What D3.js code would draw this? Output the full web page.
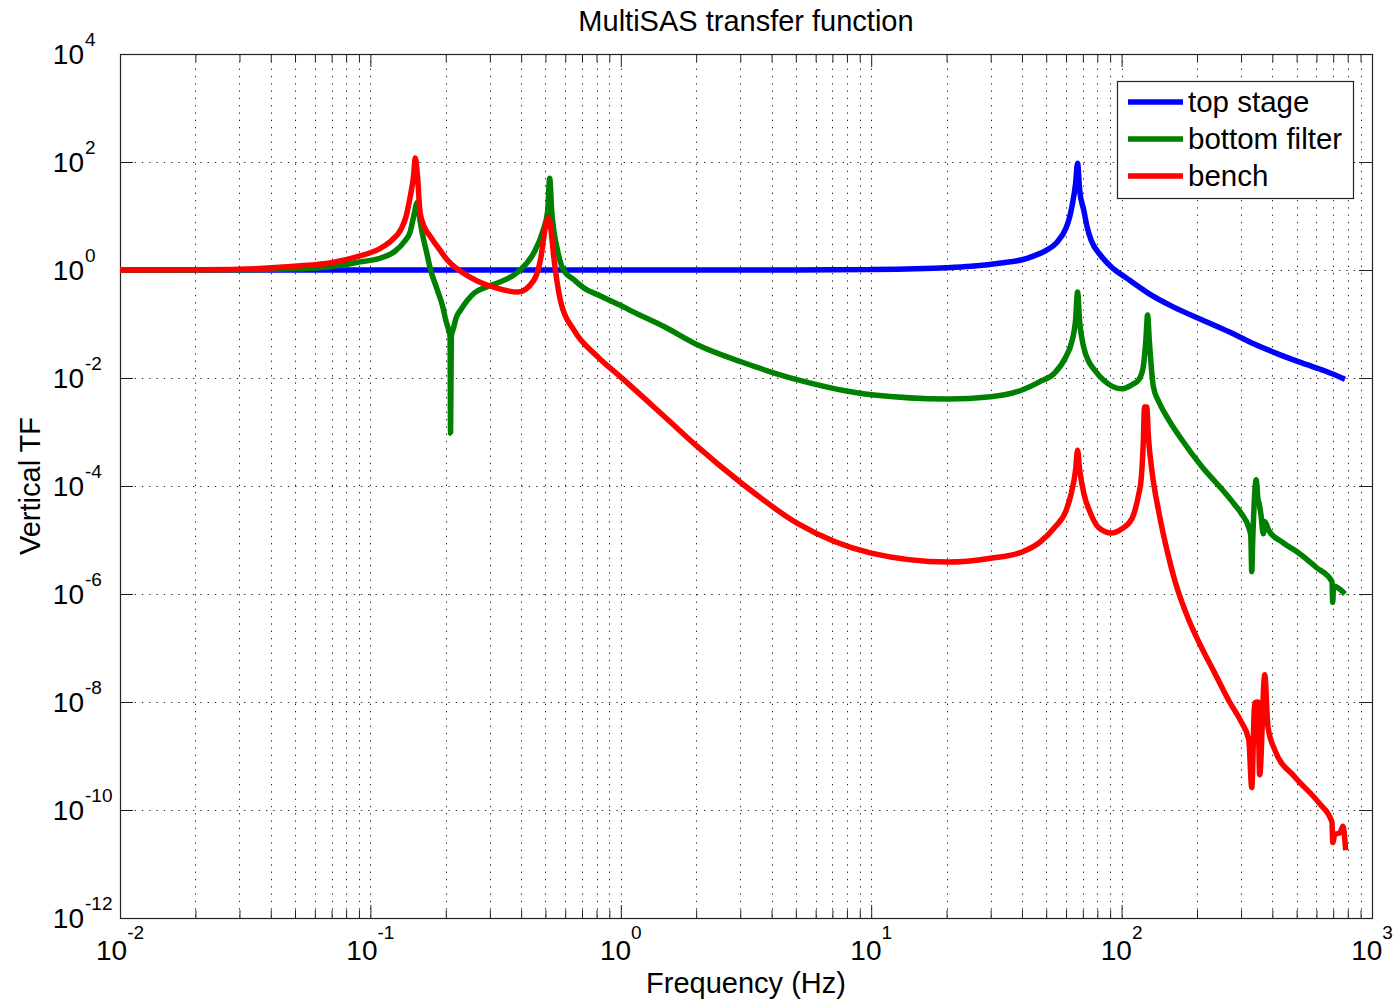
<!DOCTYPE html>
<html>
<head>
<meta charset="utf-8">
<script src="https://cdn.jsdelivr.net/npm/d3@7"></script>
<style>
  html, body { margin: 0; padding: 0; background: #fff; }
  svg text { font-family: "Liberation Sans", Arial, sans-serif; fill: #000; }
</style>
</head>
<body>
<div id="chart"></div>
<script>
// Valores (frecuencia en Hz, función de transferencia)
const topStageFreq = [0.01, 0.1, 1, 5, 10, 15, 20, 25, 33, 40, 45, 50, 55, 60, 62, 63.5, 65.5, 66.7, 68, 70.6, 73, 75.5, 83, 91, 105, 128, 160, 209, 270, 337, 420, 525, 650, 780];
const topStageTF   = [1, 1, 1, 1.005, 1.02, 1.05, 1.1, 1.17, 1.35, 1.55, 1.85, 2.3, 3.2, 6, 9.5, 16, 40, 95, 30, 12.9, 6, 3.6, 1.8, 1.14, 0.7, 0.37, 0.21, 0.12, 0.071, 0.043, 0.028, 0.019, 0.0135, 0.0095];

const bottomFilterFreq = [0.01, 0.03, 0.05, 0.069, 0.09, 0.11, 0.125, 0.137, 0.144, 0.149, 0.154, 0.158, 0.161, 0.167, 0.174, 0.185, 0.195, 0.2, 0.205, 0.208, 0.209, 0.2105, 0.215, 0.22, 0.229, 0.245, 0.26, 0.29, 0.32, 0.388, 0.45, 0.49, 0.51, 0.52, 0.53, 0.54, 0.56, 0.59, 0.65, 0.71, 0.83, 1.0, 1.1, 1.5, 2.03, 3.02, 5.1, 10, 20.3, 30, 40, 47, 54, 60, 63, 65.5, 66.7, 68, 70.6, 74, 78, 85, 100, 110, 117, 122, 125, 127, 129, 134, 141, 154, 174, 209, 250, 283, 302, 322, 328, 331, 334, 345, 350, 355, 360, 368, 373, 387, 440, 511, 600, 692, 697, 702, 740, 780];
const bottomFilterTF   = [1, 1.01, 1.05, 1.15, 1.4, 1.67, 2.2, 3.4, 5, 10, 18, 8, 4.9, 2.3, 1.0, 0.43, 0.2, 0.118, 0.08, 0.06, 9.5e-4, 0.06, 0.085, 0.13, 0.18, 0.28, 0.375, 0.48, 0.57, 0.92, 2.1, 5.5, 12, 50, 12, 5.5, 2.2, 1.0, 0.66, 0.47, 0.33, 0.22, 0.175, 0.088, 0.041, 0.020, 0.0092, 0.0049, 0.0041, 0.0045, 0.006, 0.0085, 0.0123, 0.025, 0.044, 0.12, 0.39, 0.11, 0.037, 0.02, 0.014, 0.009, 0.0063, 0.0075, 0.0092, 0.016, 0.05, 0.147, 0.05, 0.0068, 0.0036, 0.0017, 7.2e-4, 2.3e-4, 9e-5, 4.5e-5, 3e-5, 1.7e-5, 1.2e-5, 2.6e-6, 1.0e-5, 1.3e-4, 6e-5, 4.5e-5, 3.0e-5, 1.3e-5, 2.2e-5, 1.5e-5, 9e-6, 5.7e-6, 3.1e-6, 1.7e-6, 7e-7, 1.4e-6, 1.25e-6, 1.0e-6];

const benchFreq = [0.01, 0.02, 0.03, 0.0525, 0.069, 0.09, 0.11, 0.122, 0.132, 0.139, 0.144, 0.149, 0.151, 0.154, 0.158, 0.165, 0.174, 0.19, 0.203, 0.25, 0.32, 0.388, 0.45, 0.48, 0.50, 0.515, 0.525, 0.54, 0.577, 0.65, 0.81, 1.0, 1.5, 2.03, 3.02, 5.1, 10, 20.3, 30, 40, 47, 54, 60, 63, 65.5, 66.7, 68, 70.6, 75, 81, 91, 100, 110, 113, 117, 120, 122, 123.5, 126, 128, 132, 141, 154, 163, 185, 209, 235, 270, 302, 322, 331, 340, 350, 356, 373, 384, 409, 492, 614, 692, 697, 710, 745, 765, 785];
const benchTF   = [1, 1.01, 1.03, 1.2, 1.35, 1.8, 2.55, 3.6, 5.5, 10, 22, 60, 118, 60, 11.4, 6, 4.1, 2.3, 1.53, 0.74, 0.46, 0.39, 0.65, 1.74, 6.3, 9.2, 6, 1.74, 0.245, 0.077, 0.0245, 0.0104, 1.9e-3, 5.3e-4, 1.15e-4, 2.0e-5, 5.7e-6, 3.9e-6, 4.6e-6, 6e-6, 9e-6, 1.7e-5, 3.5e-5, 7.4e-5, 2e-4, 4.6e-4, 2e-4, 7.4e-5, 3.2e-5, 1.7e-5, 1.35e-5, 1.6e-5, 2.5e-5, 3.5e-5, 7e-5, 1.5e-4, 6e-4, 2.9e-3, 2.9e-3, 8e-4, 2e-4, 3.2e-5, 4.9e-6, 1.8e-6, 3.4e-7, 1.0e-7, 3.5e-8, 1e-8, 4.1e-9, 2.0e-9, 2.6e-10, 9.6e-9, 1e-8, 4.5e-10, 3.2e-8, 3.5e-9, 1.3e-9, 4.1e-10, 1.35e-10, 6e-11, 2.5e-11, 3.5e-11, 3.8e-11, 5e-11, 1.8e-11];

const seriesNames = ['top stage', 'bottom filter', 'bench'];
const xTickExps = [-2, -1, 0, 1, 2, 3];
const yTickExps = [-12, -10, -8, -6, -4, -2, 0, 2, 4];

const COLOR_BLUE = '#0000ff',
      COLOR_GREEN = '#008000',
      COLOR_RED = '#ff0000';

let margin = {top: 54, right: 25, bottom: 87, left: 120},
    totalW = 1397, totalH = 1005,
    width = totalW - margin.left - margin.right,
    height = totalH - margin.top - margin.bottom;

let svg = d3.select('#chart').append('svg')
    .attr('width', totalW)
    .attr('height', totalH);

let g = svg.append('g')
    .attr('transform', 'translate(' + margin.left + ',' + margin.top + ')');

let x = d3.scaleLog().domain([1e-2, 1e3]).range([0, width]);
let y = d3.scaleLog().domain([1e-12, 1e4]).range([height, 0]);

// Valores de ticks
let xMajor = xTickExps.map(function(e) { return Math.pow(10, e); });
let xMinor = [];
xTickExps.slice(0, -1).forEach(function(e) {
    for (let k = 2; k <= 9; k++) xMinor.push(k * Math.pow(10, e));
});
let yMajor = yTickExps.map(function(e) { return Math.pow(10, e); });

// Rejilla punteada
let grid = g.append('g').attr('class', 'grid')
    .attr('stroke', '#222').attr('stroke-width', 1).attr('stroke-dasharray', '1.3,6');

grid.selectAll('line.gx')
    .data(xMinor.concat(xMajor.slice(1, -1)))
    .enter().append('line')
    .attr('x1', function(d) { return Math.round(x(d)) + 0.5; })
    .attr('x2', function(d) { return Math.round(x(d)) + 0.5; })
    .attr('y1', 0).attr('y2', height);

grid.selectAll('line.gy')
    .data(yMajor.slice(1, -1))
    .enter().append('line')
    .attr('y1', function(d) { return Math.round(y(d)) + 0.5; })
    .attr('y2', function(d) { return Math.round(y(d)) + 0.5; })
    .attr('x1', 0).attr('x2', width);

// Ticks interiores en los cuatro lados
function ticksOnly(axis) {
    return function(sel) {
        sel.call(axis);
        sel.select('.domain').remove();
        sel.selectAll('text').remove();
        sel.selectAll('line').attr('stroke', '#222');
    };
}

g.append('g').attr('transform', 'translate(0,' + height + ')')
    .call(ticksOnly(d3.axisBottom(x).tickValues(xMajor).tickSize(-13).tickFormat('')));
g.append('g').attr('transform', 'translate(0,' + height + ')')
    .call(ticksOnly(d3.axisBottom(x).tickValues(xMinor).tickSize(-8).tickFormat('')));
g.append('g')
    .call(ticksOnly(d3.axisTop(x).tickValues(xMajor).tickSize(-13).tickFormat('')));
g.append('g')
    .call(ticksOnly(d3.axisTop(x).tickValues(xMinor).tickSize(-8).tickFormat('')));
g.append('g')
    .call(ticksOnly(d3.axisLeft(y).tickValues(yMajor).tickSize(-13).tickFormat('')));
g.append('g').attr('transform', 'translate(' + width + ',0)')
    .call(ticksOnly(d3.axisRight(y).tickValues(yMajor).tickSize(-13).tickFormat('')));

// Caja
g.append('rect')
    .attr('x', 0.5).attr('y', 0.5)
    .attr('width', width).attr('height', height)
    .attr('fill', 'none').attr('stroke', '#222').attr('stroke-width', 1.2);

// Etiquetas eje X
let xLab = g.append('g').attr('class', 'xlabels');
xTickExps.forEach(function(e) {
    let t = xLab.append('text')
        .attr('x', x(Math.pow(10, e)))
        .attr('y', height + 42)
        .attr('text-anchor', 'middle')
        .style('font-size', '28px');
    t.append('tspan').text('10');
    t.append('tspan').attr('dy', -21).style('font-size', '19px').text(e);
});

// Etiquetas eje Y
let yLab = g.append('g').attr('class', 'ylabels');
yTickExps.forEach(function(e) {
    let py = y(Math.pow(10, e));
    yLab.append('text')
        .attr('x', -36).attr('y', py + 10)
        .attr('text-anchor', 'end')
        .style('font-size', '28px')
        .text('10');
    yLab.append('text')
        .attr('x', -35).attr('y', py - 8)
        .attr('text-anchor', 'start')
        .style('font-size', '19px')
        .text(e);
});

// Curvas
let line = d3.line()
    .curve(d3.curveMonotoneX)
    .x(function(d) { return x(d[0]); })
    .y(function(d) { return y(d[1]); });

let series = [
    {name: seriesNames[0], color: COLOR_BLUE, data: d3.zip(topStageFreq, topStageTF)},
    {name: seriesNames[1], color: COLOR_GREEN, data: d3.zip(bottomFilterFreq, bottomFilterTF)},
    {name: seriesNames[2], color: COLOR_RED, data: d3.zip(benchFreq, benchTF)}
];

g.append('g').attr('class', 'curves')
    .selectAll('path')
    .data(series)
    .enter().append('path')
    .attr('d', function(d) { return line(d.data); })
    .attr('fill', 'none')
    .attr('stroke', function(d) { return d.color; })
    .attr('stroke-width', 5.5)
    .attr('stroke-linejoin', 'bevel');

// Leyenda
let legend = svg.append('g').attr('transform', 'translate(1117,81)');
legend.append('rect')
    .attr('x', 0.5).attr('y', 0.5).attr('width', 236).attr('height', 117)
    .attr('fill', '#fff').attr('stroke', '#222').attr('stroke-width', 1.2);
series.forEach(function(s, i) {
    let ly = 21 + i * 37;
    legend.append('line')
        .attr('x1', 11).attr('x2', 66).attr('y1', ly).attr('y2', ly)
        .attr('stroke', s.color).attr('stroke-width', 5.5);
    legend.append('text')
        .attr('x', 71).attr('y', ly + 10)
        .style('font-size', '29.5px')
        .text(s.name);
});

// Títulos
svg.append('text')
    .attr('x', margin.left + width / 2).attr('y', 31)
    .attr('text-anchor', 'middle')
    .style('font-size', '29px')
    .text('MultiSAS transfer function');

svg.append('text')
    .attr('x', margin.left + width / 2).attr('y', 993)
    .attr('text-anchor', 'middle')
    .style('font-size', '29px')
    .text('Frequency (Hz)');

svg.append('text')
    .attr('transform', 'translate(40,' + (margin.top + height / 2) + ') rotate(-90)')
    .attr('text-anchor', 'middle')
    .style('font-size', '29px')
    .text('Vertical TF');
</script>
</body>
</html>
